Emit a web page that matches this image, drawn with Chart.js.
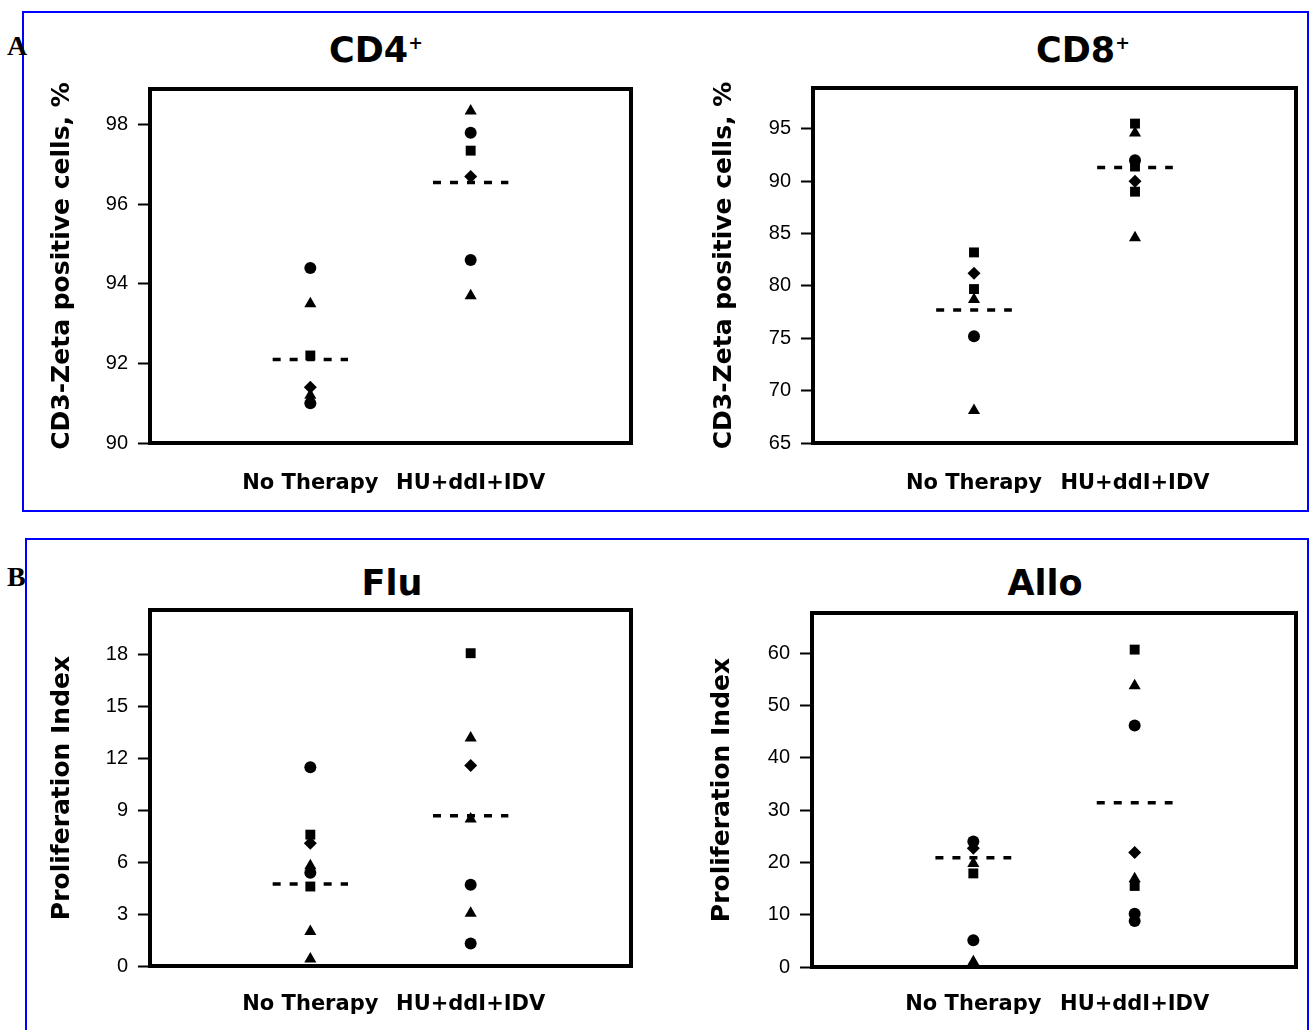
<!DOCTYPE html>
<html>
<head>
<meta charset="utf-8">
<script src="https://cdn.jsdelivr.net/npm/chart.js@4.4.0/dist/chart.umd.min.js"></script>
<style>
  body { margin: 0; background: #fff; }
  #page { position: relative; width: 1311px; height: 1030px; overflow: hidden; background: #fff; }
  .frame { position: absolute; box-sizing: border-box; border: 2px solid #0000ff; }
  .tag { position: absolute; font: bold 28px "Liberation Serif", serif; line-height: 1; color: #000; }
  .title { position: absolute; font: bold 35px "DejaVu Sans", sans-serif; line-height: 1; transform: translateX(-50%); white-space: nowrap; color: #000; }
  .title sup { font-size: 0.5em; vertical-align: top; position: relative; top: 2px; }
  canvas { position: absolute; }
</style>
</head>
<body>
<div id="page">
  <div class="frame" style="left:22px; top:11px; width:1287px; height:501px;"></div>
  <div class="frame" style="left:25px; top:538px; width:1284px; height:600px;"></div>
  <div class="tag" style="left:7px; top:32px;">A</div>
  <div class="tag" style="left:7px; top:563px;">B</div>
  <div class="title" style="left:376px; top:33px;">CD4<sup>+</sup></div>
  <div class="title" style="left:1083px; top:33px;">CD8<sup>+</sup></div>
  <div class="title" style="left:392px; top:566px;">Flu</div>
  <div class="title" style="left:1045px; top:566px;">Allo</div>
  <canvas id="cd4" width="602" height="445" style="left:47px; top:60px;"></canvas>
  <canvas id="cd8" width="599" height="445" style="left:709px; top:60px;"></canvas>
  <canvas id="flu" width="602" height="448" style="left:47px; top:580px;"></canvas>
  <canvas id="allo" width="601" height="446" style="left:707px; top:583px;"></canvas>
</div>
<script>
// groups on the x axis
const categories = ['No Therapy', 'HU+ddI+IDV'];

// CD3-zeta positive cells, % (CD4+)
const cd4NoTherapy = [94.4, 93.5, 92.2, 91.4, 91.2, 91.0];
const cd4NoTherapyShapes = ['circle', 'triangle', 'rect', 'rectRot', 'triangle', 'circle'];
const cd4Treated = [98.35, 97.8, 97.35, 96.7, 94.6, 93.7];
const cd4TreatedShapes = ['triangle', 'circle', 'rect', 'rectRot', 'circle', 'triangle'];
const cd4Means = [92.1, 96.55];
const cd4Ticks = [90, 92, 94, 96, 98];

// CD3-zeta positive cells, % (CD8+)
const cd8NoTherapy = [83.2, 81.2, 79.7, 78.7, 75.2, 68.1];
const cd8NoTherapyShapes = ['rect', 'rectRot', 'rect', 'triangle', 'circle', 'triangle'];
const cd8Treated = [95.5, 94.6, 92.0, 91.4, 90.0, 89.0, 84.6];
const cd8TreatedShapes = ['rect', 'triangle', 'circle', 'rect', 'rectRot', 'rect', 'triangle'];
const cd8Means = [77.7, 91.3];
const cd8Ticks = [65, 70, 75, 80, 85, 90, 95];

// Proliferation index, Flu
const fluNoTherapy = [11.5, 7.6, 7.1, 5.8, 5.4, 4.6, 2.0, 0.4];
const fluNoTherapyShapes = ['circle', 'rect', 'rectRot', 'triangle', 'circle', 'rect', 'triangle', 'triangle'];
const fluTreated = [18.1, 13.2, 11.6, 8.5, 4.7, 3.05, 1.3];
const fluTreatedShapes = ['rect', 'triangle', 'rectRot', 'triangle', 'circle', 'triangle', 'circle'];
const fluMeans = [4.75, 8.7];
const fluTicks = [0, 3, 6, 9, 12, 15, 18];

// Proliferation index, Allo
const alloNoTherapy = [24.0, 22.7, 19.8, 17.9, 5.1, 1.0];
const alloNoTherapyShapes = ['circle', 'rectRot', 'triangle', 'rect', 'circle', 'triangle'];
const alloTreated = [60.7, 53.8, 46.2, 21.9, 16.9, 15.5, 10.2, 8.8];
const alloTreatedShapes = ['rect', 'triangle', 'circle', 'rectRot', 'triangle', 'rect', 'circle', 'circle'];
const alloMeans = [20.9, 31.4];
const alloTicks = [0, 10, 20, 30, 40, 50, 60];

const markerSize = { circle: 6, triangle: 7, rect: 7, rectRot: 6.5 };

const frameBox = {
  id: 'frameBox',
  beforeDatasetsDraw(chart) {
    const { ctx, chartArea: a } = chart;
    ctx.save();
    ctx.lineWidth = 4;
    ctx.strokeStyle = '#000';
    ctx.strokeRect(a.left, a.top, a.right - a.left, a.bottom - a.top);
    ctx.restore();
  }
};

function groupPoints(pos, values, shapes) {
  return {
    type: 'scatter',
    data: values.map(v => ({ x: pos, y: v })),
    pointStyle: shapes,
    pointRadius: shapes.map(s => markerSize[s]),
    pointHoverRadius: shapes.map(s => markerSize[s]),
    backgroundColor: '#000',
    borderColor: '#000',
    borderWidth: 0,
    clip: false
  };
}

function meanLine(pos, value) {
  return {
    type: 'line',
    data: [{ x: pos - 0.235, y: value }, { x: pos + 0.235, y: value }],
    borderColor: '#000',
    borderWidth: 3.5,
    borderDash: [8, 9],
    borderCapStyle: 'butt',
    pointRadius: 0,
    clip: false
  };
}

function makePanel(id, p) {
  const positions = categories.map((c, i) => i + 1);
  new Chart(document.getElementById(id), {
    type: 'scatter',
    data: {
      datasets: [
        groupPoints(positions[0], p.noTherapy, p.noTherapyShapes),
        groupPoints(positions[1], p.treated, p.treatedShapes),
        meanLine(positions[0], p.means[0]),
        meanLine(positions[1], p.means[1])
      ]
    },
    options: {
      responsive: false,
      animation: false,
      devicePixelRatio: 1,
      layout: { padding: { top: p.padTop, right: p.padRight, left: 0, bottom: 0 } },
      plugins: { legend: { display: false }, tooltip: { enabled: false } },
      scales: {
        x: {
          type: 'linear',
          min: 0,
          max: 3,
          grid: { display: false, drawTicks: false },
          border: { display: false },
          afterBuildTicks: s => { s.ticks = positions.map(v => ({ value: v })); },
          afterFit: s => { s.height = 62; },
          ticks: {
            autoSkip: false,
            maxRotation: 0,
            padding: p.labelPad,
            color: '#000',
            font: { family: 'DejaVu Sans', size: 21, weight: 'bold' },
            callback: v => categories[v - 1]
          }
        },
        y: {
          min: p.min,
          max: p.max,
          afterBuildTicks: s => { s.ticks = p.ticks.map(v => ({ value: v })); },
          afterFit: s => { s.width = p.axisWidth; },
          grid: { drawOnChartArea: false, tickLength: 12, tickWidth: 2, tickColor: '#000', color: '#000' },
          border: { display: false },
          ticks: { padding: 10, color: '#000', font: { family: 'Liberation Sans', size: 20 } },
          title: {
            display: true,
            text: p.yTitle,
            color: '#000',
            padding: { top: 0, bottom: 0 },
            font: { family: 'DejaVu Sans', size: 25, weight: 'bold' }
          }
        }
      }
    },
    plugins: [frameBox]
  });
}

makePanel('cd4', {
  noTherapy: cd4NoTherapy, noTherapyShapes: cd4NoTherapyShapes,
  treated: cd4Treated, treatedShapes: cd4TreatedShapes, means: cd4Means,
  ticks: cd4Ticks, min: 90, max: 98.9, yTitle: 'CD3-Zeta positive cells, %',
  axisWidth: 103, padTop: 29, padRight: 18, labelPad: 28
});
makePanel('cd8', {
  noTherapy: cd8NoTherapy, noTherapyShapes: cd8NoTherapyShapes,
  treated: cd8Treated, treatedShapes: cd8TreatedShapes, means: cd8Means,
  ticks: cd8Ticks, min: 65, max: 98.9, yTitle: 'CD3-Zeta positive cells, %',
  axisWidth: 104, padTop: 28, padRight: 12, labelPad: 28
});
makePanel('flu', {
  noTherapy: fluNoTherapy, noTherapyShapes: fluNoTherapyShapes,
  treated: fluTreated, treatedShapes: fluTreatedShapes, means: fluMeans,
  ticks: fluTicks, min: 0, max: 20.6, yTitle: 'Proliferation Index',
  axisWidth: 103, padTop: 30, padRight: 18, labelPad: 26
});
makePanel('allo', {
  noTherapy: alloNoTherapy, noTherapyShapes: alloNoTherapyShapes,
  treated: alloTreated, treatedShapes: alloTreatedShapes, means: alloMeans,
  ticks: alloTicks, min: 0, max: 67.7, yTitle: 'Proliferation Index',
  axisWidth: 105, padTop: 30, padRight: 12, labelPad: 25
});
</script>
</body>
</html>
